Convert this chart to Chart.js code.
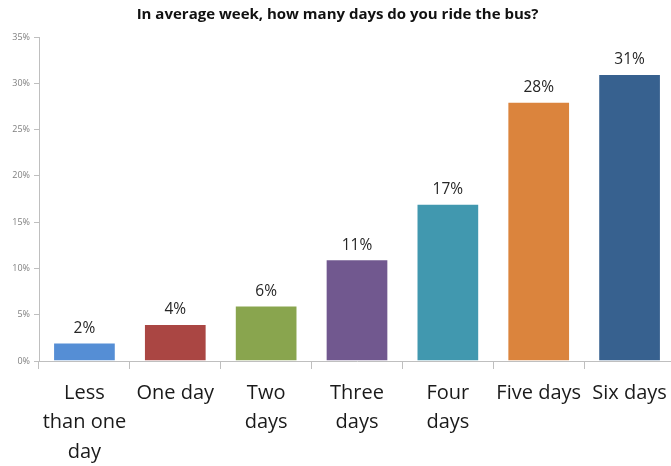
<!DOCTYPE html>
<html>
<head>
<meta charset="utf-8">
<script src="https://cdn.jsdelivr.net/npm/chart.js@4.4.1/dist/chart.umd.min.js"></script>
<style>
html,body{margin:0;padding:0;background:#fff;overflow:hidden;}
#wrap{position:relative;width:689px;height:466px;}
</style>
</head>
<body>
<div id="wrap"><canvas id="c" width="689" height="466"></canvas></div>
<script>
const titleText = "In average week, how many days do you ride the bus?";
const categories = [["Less","than one","day"], "One day", ["Two","days"], ["Three","days"], ["Four","days"], "Five days", "Six days"];
const values = [2, 4, 6, 11, 17, 28, 31];
const barColors = ["#558ED5", "#AA4643", "#89A54E", "#71588F", "#4198AF", "#DB843D", "#37618F"];
const yTicks = [0, 5, 10, 15, 20, 25, 30, 35];

const FONT = "'Open Sans', 'Liberation Sans', sans-serif";

const dataLabels = {
  id: 'dataLabels',
  afterDatasetsDraw(chart) {
    const ctx = chart.ctx;
    const meta = chart.getDatasetMeta(0);
    ctx.save();
    ctx.font = "15.5px " + FONT;
    ctx.fillStyle = "#262626";
    ctx.textAlign = "center";
    ctx.textBaseline = "middle";
    meta.data.forEach((bar, i) => {
      ctx.fillText(values[i] + "%", bar.x, bar.y - 14);
    });
    ctx.restore();
  }
};

new Chart(document.getElementById('c'), {
  type: 'bar',
  data: {
    labels: categories,
    datasets: [{
      data: values,
      backgroundColor: barColors,
      borderColor: "rgba(255,255,255,0.35)",
      borderWidth: 1,
      barPercentage: 0.69,
      categoryPercentage: 1.0
    }]
  },
  options: {
    responsive: false,
    animation: false,
    devicePixelRatio: 1,
    layout: { padding: { left: 0, right: 14, top: 0, bottom: 0 } },
    plugins: {
      legend: { display: false },
      tooltip: { enabled: false },
      title: {
        display: true,
        text: titleText,
        color: "#111111",
        font: { family: FONT, size: 15, weight: 'bold', lineHeight: 1.2 },
        padding: { top: 6, bottom: 13 }
      }
    },
    scales: {
      x: {
        offset: true,
        grid: {
          display: true,
          offset: true,
          drawOnChartArea: false,
          drawTicks: true,
          tickLength: 8,
          color: "#BFBFBF",
          lineWidth: 1
        },
        border: { display: true, color: "#BFBFBF", width: 1 },
        ticks: {
          color: "#1a1a1a",
          font: { family: FONT, size: 20, lineHeight: 1.48 },
          padding: 9,
          maxRotation: 0,
          autoSkip: false
        },
        afterFit(scale) { scale.height = 105; }
      },
      y: {
        min: 0,
        max: 35,
        afterBuildTicks(scale) { scale.ticks = yTicks.map(v => ({ value: v })); },
        grid: {
          display: true,
          drawOnChartArea: false,
          drawTicks: true,
          tickLength: 5,
          color: "#BFBFBF"
        },
        border: { display: true, color: "#BFBFBF", width: 1 },
        ticks: {
          color: "#7F7F7F",
          font: { family: FONT, size: 9 },
          padding: 4,
          callback: (v) => v + "%"
        },
        afterFit(scale) { scale.width = 39; }
      }
    }
  },
  plugins: [dataLabels]
});
</script>
</body>
</html>
